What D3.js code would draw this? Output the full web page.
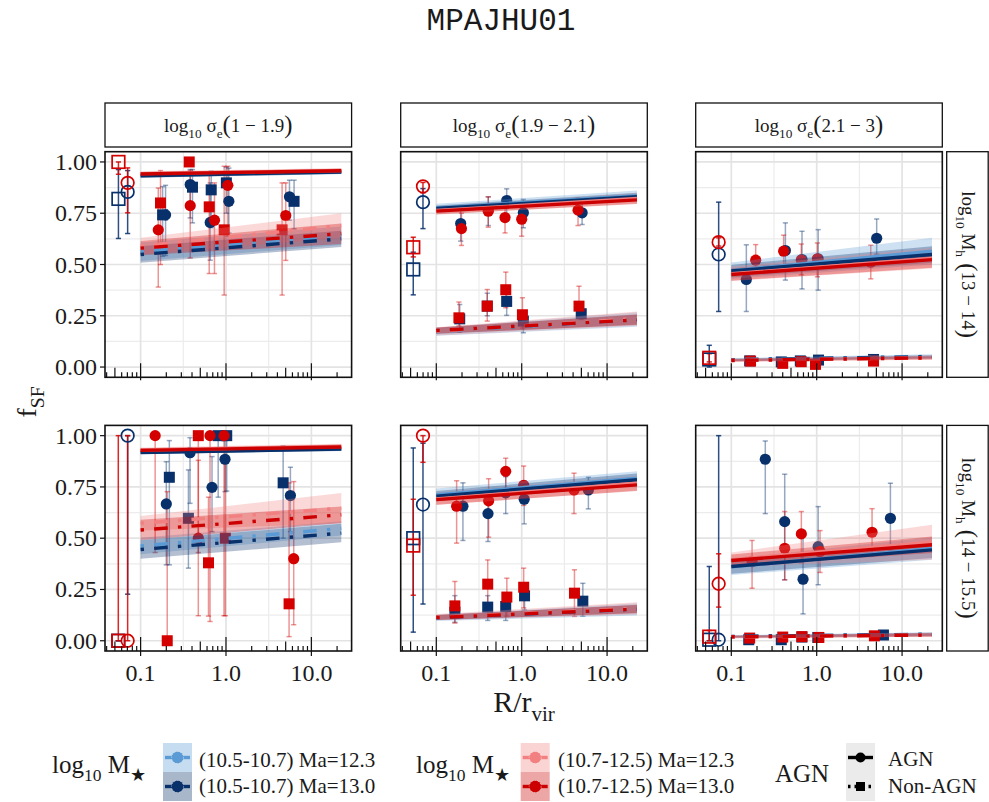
<!DOCTYPE html>
<html><head><meta charset="utf-8">
<script src="https://cdn.jsdelivr.net/npm/d3@7"></script>
<style>
body{margin:0;background:#fff}
svg{display:block}
text{font-family:"Liberation Serif","Times New Roman",serif;fill:#1a1a1a}
</style>
</head><body>
<svg id="chart" width="989" height="802"></svg>
<script>
// facet labels and axis ticks
const sigmaBins = ["1 − 1.9", "1.9 − 2.1", "2.1 − 3"];
const haloBins = ["13 − 14", "14 − 15.5"];
const xTicks = [0.1, 1, 10];
const xTickLabels = ["0.1", "1.0", "10.0"];
const yTicks = [0, 0.25, 0.5, 0.75, 1];
const yTickLabels = ["0.00", "0.25", "0.50", "0.75", "1.00"];
const massLabels = ["(10.5-10.7)", "(10.7-12.5)"];
const maLabels = ["Ma=12.3", "Ma=13.0"];
const agnLabels = ["AGN", "Non-AGN"];

// binned points: [massBin, agn, R/rvir, fSF, lower, upper]
const pointsA = [
  [0,1,0.196,0.742,0.544,0.886],[0,1,0.381,0.890,0.727,0.963],[0,1,0.653,0.705,0.521,0.898],[0,1,1.08,0.808,0.654,0.970],[0,1,5.54,0.830,0.716,0.911],
  [0,0,0.181,0.742,0.540,0.880],[0,0,0.405,0.877,0.703,0.963],[0,0,0.671,0.864,0.679,0.955],[0,0,1.01,0.898,0.750,0.975],[0,0,6.27,0.808,0.674,0.911],
  [1,1,0.161,0.669,0.390,0.873],[1,1,0.381,0.787,0.532,0.958],[1,1,0.733,0.716,0.456,0.898],[1,1,1.05,0.886,0.638,0.979],[1,1,5.01,0.739,0.520,0.898],
  [1,0,0.171,0.800,0.500,0.958],[1,0,0.371,1.000,1.000,1.000],[1,0,0.636,0.781,0.456,0.946],[1,0,0.952,0.669,0.351,0.979],[1,0,4.54,0.669,0.351,0.898]
];
const pointsB = [
  [0,1,0.193,0.700,0.614,0.768],[0,1,0.406,0.768,0.690,0.830],[0,1,0.667,0.812,0.730,0.869],[0,1,1.046,0.752,0.679,0.817],[0,1,5.10,0.752,0.695,0.800],
  [0,0,0.188,0.235,0.170,0.305],[0,0,0.395,0.297,0.250,0.360],[0,0,0.667,0.320,0.252,0.378],[0,0,1.046,0.224,0.167,0.270],[0,0,4.98,0.260,0.232,0.310],
  [1,1,0.197,0.675,0.593,0.750],[1,1,0.406,0.760,0.682,0.830],[1,1,0.638,0.729,0.654,0.800],[1,1,1.00,0.721,0.638,0.790],[1,1,4.57,0.765,0.690,0.825],
  [1,0,0.184,0.240,0.200,0.317],[1,0,0.395,0.297,0.224,0.378],[1,0,0.651,0.377,0.289,0.463],[1,0,1.02,0.255,0.190,0.338],[1,0,4.69,0.297,0.240,0.394]
];
const pointsC = [
  [0,1,0.150,0.427,0.271,0.596],[0,1,0.430,0.568,0.424,0.703],[0,1,0.673,0.524,0.381,0.662],[0,1,1.04,0.528,0.375,0.670],[0,1,5.04,0.628,0.550,0.722],
  [0,0,0.164,0.030,0.020,0.040],[0,0,0.385,0.025,0.015,0.035],[0,0,0.643,0.030,0.020,0.040],[0,0,1.05,0.034,0.024,0.048],[0,0,4.63,0.037,0.027,0.050],
  [1,1,0.193,0.521,0.480,0.597],[1,1,0.410,0.565,0.468,0.643],[1,1,0.660,0.521,0.450,0.600],[1,1,1.02,0.528,0.440,0.605],[1,1,4.30,0.511,0.430,0.594],
  [1,0,0.168,0.029,0.020,0.040],[1,0,0.400,0.018,0.010,0.030],[1,0,0.659,0.026,0.017,0.036],[1,0,0.968,0.013,0.004,0.025],[1,0,4.63,0.029,0.020,0.040]
];
const pointsD = [
  [0,1,0.200,0.667,0.370,0.873],[0,1,0.379,0.917,0.670,0.990],[0,1,0.686,0.748,0.532,0.898],[0,1,0.974,0.885,0.727,0.976],[0,1,5.68,0.708,0.532,0.846],
  [0,0,0.217,0.797,0.370,0.976],[0,0,0.363,0.597,0.354,0.833],[0,0,0.810,1.000,0.700,1.000],[0,0,1.02,1.000,0.730,1.000],[0,0,4.67,0.770,0.500,0.950],
  [1,1,0.148,1.000,0.430,1.000],[1,1,0.474,0.500,0.430,0.880],[1,1,0.650,1.000,0.094,1.000],[1,1,0.948,1.000,0.122,1.000],[1,1,6.21,0.400,0.078,0.776],
  [1,0,0.205,0.000,0.000,0.727],[1,0,0.474,1.000,0.122,1.000],[1,0,0.624,0.380,0.120,0.700],[1,0,0.983,0.500,0.122,0.880],[1,0,5.48,0.180,0.020,0.770]
];
const pointsE = [
  [0,1,0.205,0.656,0.489,0.770],[0,1,0.403,0.620,0.484,0.730],[0,1,0.650,0.721,0.620,0.800],[0,1,1.07,0.690,0.570,0.780],[0,1,6.04,0.735,0.643,0.797],
  [0,0,0.165,0.139,0.090,0.220],[0,0,0.400,0.164,0.099,0.220],[0,0,0.650,0.167,0.099,0.232],[0,0,1.08,0.219,0.150,0.278],[0,0,5.20,0.193,0.120,0.280],
  [1,1,0.173,0.656,0.476,0.780],[1,1,0.410,0.682,0.505,0.790],[1,1,0.650,0.826,0.720,0.890],[1,1,1.055,0.758,0.660,0.852],[1,1,4.10,0.735,0.620,0.817],
  [1,0,0.165,0.170,0.086,0.289],[1,0,0.400,0.276,0.160,0.394],[1,0,0.670,0.213,0.120,0.305],[1,0,1.055,0.261,0.160,0.354],[1,0,4.15,0.232,0.119,0.346]
];
const pointsF = [
  [0,1,0.250,0.885,0.620,0.974],[0,1,0.422,0.581,0.297,0.812],[0,1,0.692,0.300,0.131,0.537],[0,1,1.04,0.459,0.273,0.654],[0,1,7.30,0.597,0.443,0.768],
  [0,0,0.160,0.005,0.000,0.015],[0,0,0.385,0.005,0.000,0.015],[0,0,0.671,0.018,0.008,0.040],[0,0,1.03,0.016,0.006,0.030],[0,0,6.05,0.028,0.015,0.045],
  [1,1,0.175,0.386,0.256,0.489],[1,1,0.422,0.451,0.297,0.630],[1,1,0.661,0.521,0.380,0.630],[1,1,1.094,0.435,0.333,0.537],[1,1,4.45,0.529,0.414,0.644],
  [1,0,0.164,0.013,0.004,0.025],[1,0,0.400,0.018,0.008,0.030],[1,0,0.671,0.020,0.010,0.030],[1,0,1.06,0.016,0.006,0.028],[1,0,4.74,0.024,0.012,0.036]
];

// whole-group values shown with open markers: [massBin, agn, R/rvir, fSF, lower, upper]
const centralA = [[0,0,0.055,0.820,0.627,0.963],[0,1,0.0705,0.854,0.651,0.958],[1,0,0.055,1.000,0.940,1.000],[1,1,0.0705,0.898,0.752,0.971]];
const centralB = [[0,1,0.0698,0.804,0.675,0.870],[0,0,0.0537,0.476,0.352,0.560],[1,1,0.0698,0.881,0.849,0.900],[1,0,0.0537,0.584,0.537,0.633]];
const centralC = [[0,1,0.0711,0.549,0.271,0.804],[0,0,0.0552,0.037,0.000,0.106],[1,1,0.0711,0.609,0.590,0.630],[1,0,0.0552,0.045,0.025,0.065]];
const centralD = [[0,0,0.0548,0.000,0.000,0.000],[0,1,0.0705,1.000,0.227,1.000],[1,0,0.0548,0.000,0.000,1.000],[1,1,0.0705,0.000,0.000,1.000]];
const centralE = [[0,1,0.0698,0.664,0.179,0.963],[0,0,0.0537,0.500,0.042,0.940],[1,1,0.0698,1.000,0.870,1.000],[1,0,0.0537,0.464,0.222,0.690]];
const centralF = [[0,1,0.0711,0.005,0.000,1.000],[0,0,0.0552,0.005,0.000,0.362],[1,1,0.0711,0.278,0.164,0.424],[1,0,0.0552,0.020,0.000,0.050]];

// model fits: [massBin, maIndex, agn, fSF at r=0.1, fSF at r=22.4, half band at 0.1, half band at 22.4]
const fitsA = [
  [0,0,1,0.935,0.953,0.012,0.012],[0,1,1,0.933,0.951,0.010,0.010],[1,0,1,0.943,0.958,0.012,0.012],[1,1,1,0.941,0.957,0.010,0.010],
  [0,0,0,0.562,0.640,0.045,0.045],[0,1,0,0.549,0.625,0.040,0.040],[1,0,0,0.590,0.690,0.040,0.060],[1,1,0,0.580,0.650,0.035,0.050]
];
const fitsB = [
  [0,0,1,0.776,0.836,0.020,0.025],[0,1,1,0.773,0.830,0.015,0.020],[1,0,1,0.763,0.822,0.020,0.025],[1,1,1,0.760,0.815,0.015,0.020],
  [0,0,0,0.172,0.232,0.020,0.035],[0,1,0,0.176,0.232,0.015,0.025],[1,0,0,0.174,0.236,0.020,0.035],[1,1,0,0.178,0.230,0.015,0.025]
];
const fitsC = [
  [0,0,1,0.470,0.565,0.040,0.065],[0,1,1,0.468,0.549,0.030,0.040],[1,0,1,0.455,0.530,0.035,0.050],[1,1,1,0.451,0.524,0.030,0.040],
  [0,0,0,0.036,0.052,0.008,0.010],[0,1,0,0.035,0.050,0.006,0.008],[1,0,0,0.033,0.046,0.008,0.010],[1,1,0,0.032,0.045,0.006,0.008]
];
const fitsD = [
  [0,0,1,0.920,0.937,0.010,0.012],[0,1,1,0.918,0.935,0.008,0.010],[1,0,1,0.930,0.947,0.012,0.014],[1,1,1,0.928,0.945,0.010,0.012],
  [0,0,0,0.462,0.548,0.040,0.035],[0,1,0,0.445,0.525,0.045,0.045],[1,0,0,0.573,0.646,0.035,0.075],[1,1,0,0.540,0.614,0.050,0.040]
];
const fitsE = [
  [0,0,1,0.712,0.792,0.030,0.035],[0,1,1,0.705,0.785,0.025,0.030],[1,0,1,0.692,0.768,0.030,0.035],[1,1,1,0.688,0.760,0.025,0.030],
  [0,0,0,0.111,0.153,0.015,0.030],[0,1,0,0.113,0.155,0.012,0.020],[1,0,0,0.115,0.158,0.015,0.030],[1,1,0,0.113,0.154,0.012,0.020]
];
const fitsF = [
  [0,0,1,0.360,0.450,0.040,0.055],[0,1,1,0.362,0.443,0.035,0.040],[1,0,1,0.395,0.480,0.035,0.085],[1,1,1,0.391,0.468,0.030,0.040],
  [0,0,0,0.020,0.032,0.007,0.010],[0,1,0,0.021,0.031,0.005,0.008],[1,0,0,0.018,0.029,0.007,0.010],[1,1,0,0.019,0.028,0.005,0.008]
];
const fitRange = [0.1, 22.4];

// ---- styling ----
const lineColor = [["#5b9bd5", "#08306b"], ["#f28080", "#cc0000"]]; // [mass][ma]
const pointColor = ["#08306b", "#d40000"];
const grid = {major: "#e3e3e3", minor: "#ececec"};

const svg = d3.select("#chart");
const colLeft = [105, 400.7, 695.7], panelW = 246.6;
const rowTop = [151.7, 425.4], panelH = 225.6;
const xDomain = [Math.pow(10, -1.417), Math.pow(10, 1.471)];
const yDomain = [-0.05, 1.05];

const panels = [
  {row:0, col:0, points:pointsA, central:centralA, fits:fitsA},
  {row:0, col:1, points:pointsB, central:centralB, fits:fitsB},
  {row:0, col:2, points:pointsC, central:centralC, fits:fitsC},
  {row:1, col:0, points:pointsD, central:centralD, fits:fitsD},
  {row:1, col:1, points:pointsE, central:centralE, fits:fitsE},
  {row:1, col:2, points:pointsF, central:centralF, fits:fitsF}
];

// text with subscripts and enlarged brackets
function rich(parent, x, y, parts, size, anchor) {
  const t = parent.append("text").attr("x", x).attr("y", y)
    .attr("font-size", size).attr("text-anchor", anchor || "start");
  let shift = 0;
  parts.forEach(p => {
    let s = size, target = 0;
    if (p.sub) { s = size * 0.7; target = size * 0.3; }
    if (p.big) { s = size * 1.3; target = size * 0.06; }
    t.append("tspan").attr("font-size", s).attr("dy", target - shift).text(p.t);
    shift = target;
  });
  return t;
}

const logTickVals = [];
for (let d = -2; d <= 1; d++) for (let k = 1; k <= 9; k++) {
  const v = k * Math.pow(10, d);
  if (v >= xDomain[0] && v <= xDomain[1]) logTickVals.push({v, k});
}

panels.forEach(p => {
  const L = colLeft[p.col], T = rowTop[p.row];
  const x = d3.scaleLog().domain(xDomain).range([L, L + panelW]);
  const y = d3.scaleLinear().domain(yDomain).range([T + panelH, T]);
  const g = svg.append("g");

  g.append("rect").attr("x", L).attr("y", T).attr("width", panelW).attr("height", panelH).attr("fill", "#fff");

  // grid
  const xMinor = [Math.pow(10, -0.5), Math.pow(10, 0.5)];
  const yMinor = [0.125, 0.375, 0.625, 0.875];
  g.selectAll(".gxm").data(xMinor).join("line")
    .attr("x1", d => x(d)).attr("x2", d => x(d)).attr("y1", T).attr("y2", T + panelH)
    .attr("stroke", grid.minor).attr("stroke-width", 1.2);
  g.selectAll(".gym").data(yMinor).join("line")
    .attr("x1", L).attr("x2", L + panelW).attr("y1", d => y(d)).attr("y2", d => y(d))
    .attr("stroke", grid.minor).attr("stroke-width", 1.2);
  g.selectAll(".gx").data(xTicks).join("line")
    .attr("x1", d => x(d)).attr("x2", d => x(d)).attr("y1", T).attr("y2", T + panelH)
    .attr("stroke", grid.major).attr("stroke-width", 1.7);
  g.selectAll(".gy").data(yTicks).join("line")
    .attr("x1", L).attr("x2", L + panelW).attr("y1", d => y(d)).attr("y2", d => y(d))
    .attr("stroke", grid.major).attr("stroke-width", 1.7);

  // error bars
  const drawBars = (data, opacity) => {
    data.forEach(d => {
      const c = pointColor[d[0]], cx = x(d[2]);
      const eb = g.append("g").attr("stroke", c).attr("stroke-opacity", opacity).attr("stroke-width", 1.5);
      eb.append("line").attr("x1", cx).attr("x2", cx).attr("y1", y(d[4])).attr("y2", y(d[5]));
      [d[4], d[5]].forEach(v => eb.append("line").attr("x1", cx - 2.6).attr("x2", cx + 2.6).attr("y1", y(v)).attr("y2", y(v)));
    });
  };
  drawBars(p.central, 0.85);
  drawBars(p.points, 0.42);

  // binned points (filled)
  p.points.forEach(d => {
    const c = pointColor[d[0]];
    if (d[1] === 1) g.append("circle").attr("cx", x(d[2])).attr("cy", y(d[3])).attr("r", 5.6).attr("fill", c);
    else g.append("rect").attr("x", x(d[2]) - 5.5).attr("y", y(d[3]) - 5.5).attr("width", 11).attr("height", 11).attr("fill", c);
  });
  // whole-group points (open)
  p.central.forEach(d => {
    const c = pointColor[d[0]];
    if (d[1] === 1) g.append("circle").attr("cx", x(d[2])).attr("cy", y(d[3])).attr("r", 6.3)
      .attr("fill", "none").attr("stroke", c).attr("stroke-width", 1.7);
    else g.append("rect").attr("x", x(d[2]) - 6.3).attr("y", y(d[3]) - 6.3).attr("width", 12.6).attr("height", 12.6)
      .attr("fill", "none").attr("stroke", c).attr("stroke-width", 1.7);
  });

  // fit bands and lines
  const fitPts = d => [
    {r: fitRange[0], f: d[3], w: d[5]},
    {r: fitRange[1], f: d[4], w: d[6]}
  ];
  const area = d3.area().x(q => x(q.r)).y0(q => y(q.f - q.w)).y1(q => y(q.f + q.w));
  const line = d3.line().x(q => x(q.r)).y(q => y(q.f));
  const ordered = p.fits.slice().sort((a, b) => (a[0] * 2 + a[1]) - (b[0] * 2 + b[1]));
  ordered.forEach(d => {
    g.append("path").attr("d", area(fitPts(d))).attr("fill", lineColor[d[0]][d[1]]).attr("fill-opacity", 0.3);
  });
  ordered.forEach(d => {
    g.append("path").attr("d", line(fitPts(d))).attr("fill", "none")
      .attr("stroke", lineColor[d[0]][d[1]]).attr("stroke-width", 3.4)
      .attr("stroke-dasharray", d[2] === 1 ? null : "3.4,10.2,13.6,10.2");
  });

  // log ticks along the bottom
  const yb = T + panelH;
  g.selectAll(".lt").data(logTickVals).join("line")
    .attr("x1", d => x(d.v)).attr("x2", d => x(d.v))
    .attr("y1", yb).attr("y2", d => yb - (d.k === 1 ? 14 : d.k === 5 ? 9.5 : 5))
    .attr("stroke", "#111").attr("stroke-width", 1.2);

  // border
  g.append("rect").attr("x", L).attr("y", T).attr("width", panelW).attr("height", panelH)
    .attr("fill", "none").attr("stroke", "#111").attr("stroke-width", 1.6);

  // axis ticks and labels
  g.selectAll(".xt").data(xTicks).join("line")
    .attr("x1", d => x(d)).attr("x2", d => x(d)).attr("y1", yb).attr("y2", yb + (p.row === 1 ? 5 : 3))
    .attr("stroke", "#111").attr("stroke-width", 1.2);
  if (p.row === 1) {
    g.selectAll(".xl").data(xTicks).join("text")
      .attr("x", d => x(d)).attr("y", yb + 30).attr("text-anchor", "middle").attr("font-size", 24)
      .text((d, i) => xTickLabels[i]);
  }
  if (p.col === 0) {
    g.selectAll(".yt").data(yTicks).join("line")
      .attr("x1", L - 5).attr("x2", L).attr("y1", d => y(d)).attr("y2", d => y(d))
      .attr("stroke", "#111").attr("stroke-width", 1.2);
    g.selectAll(".yl").data(yTicks).join("text")
      .attr("x", L - 8).attr("y", d => y(d) + 8).attr("text-anchor", "end").attr("font-size", 24)
      .text((d, i) => yTickLabels[i]);
  }
});

// column strips
sigmaBins.forEach((s, i) => {
  const L = colLeft[i];
  svg.append("rect").attr("x", L).attr("y", 103).attr("width", panelW).attr("height", 44)
    .attr("fill", "#fff").attr("stroke", "#111").attr("stroke-width", 1.3);
  rich(svg, L + panelW / 2, 132, [
    {t: "log"}, {t: "10", sub: true}, {t: " σ"}, {t: "e", sub: true},
    {t: "(", big: true}, {t: s}, {t: ")", big: true}
  ], 19, "middle");
});
// row strips
haloBins.forEach((s, i) => {
  const T = rowTop[i];
  svg.append("rect").attr("x", 946.7).attr("y", T).attr("width", 41.5).attr("height", panelH)
    .attr("fill", "#fff").attr("stroke", "#111").attr("stroke-width", 1.3);
  const g = svg.append("g").attr("transform", `translate(${967.5},${T + panelH / 2}) rotate(90)`);
  rich(g, 0, 6, [
    {t: "log"}, {t: "10", sub: true}, {t: " M"}, {t: "h", sub: true},
    {t: " (", big: true}, {t: s}, {t: ")", big: true}
  ], 19, "middle");
});

// title and axis titles
svg.append("text").attr("x", 501).attr("y", 30).attr("text-anchor", "middle")
  .style("font-family", "'Liberation Mono','DejaVu Sans Mono',monospace").attr("font-size", 31)
  .text("MPAJHU01");
rich(svg, 524, 712, [{t: "R/r"}, {t: "vir", sub: true}], 30, "middle");
const yl = svg.append("g").attr("transform", "translate(36,402) rotate(-90)");
rich(yl, 0, 0, [{t: "f"}, {t: "SF", sub: true}], 28, "middle");

// legends
const keyW = 29, keyH = 29;
function colourKey(x0, y0, mass, ma) {
  const c = lineColor[mass][ma];
  svg.append("rect").attr("x", x0).attr("y", y0).attr("width", keyW).attr("height", keyH).attr("fill", "#fff");
  svg.append("rect").attr("x", x0).attr("y", y0).attr("width", keyW).attr("height", keyH).attr("fill", c).attr("fill-opacity", 0.35);
  svg.append("line").attr("x1", x0 + 2).attr("x2", x0 + keyW - 2).attr("y1", y0 + keyH / 2).attr("y2", y0 + keyH / 2)
    .attr("stroke", c).attr("stroke-width", 3.4);
  svg.append("circle").attr("cx", x0 + keyW / 2).attr("cy", y0 + keyH / 2).attr("r", 6).attr("fill", c)
    .attr("stroke", "#fff").attr("stroke-opacity", 0.5).attr("stroke-width", 0.8).attr("stroke-dasharray", "1.5,1.5");
}
const blocks = [{title: 52, key: 163, label: 199, mass: 0}, {title: 416, key: 520.7, label: 558, mass: 1}];
blocks.forEach(b => {
  rich(svg, b.title, 773, [{t: "log"}, {t: "10", sub: true}, {t: " M"}, {t: "★", sub: true}], 25, "start");
  [0, 1].forEach(ma => {
    colourKey(b.key, 743 + ma * keyH, b.mass, ma);
    svg.append("text").attr("x", b.label).attr("y", 767 + ma * 25.5).attr("font-size", 21)
      .text(massLabels[b.mass] + " " + maLabels[ma]);
  });
});
svg.append("text").attr("x", 775).attr("y", 782).attr("font-size", 25).text("AGN");
agnLabels.forEach((lab, i) => {
  const x0 = 846, y0 = 743 + i * keyH, cy = y0 + keyH / 2;
  svg.append("rect").attr("x", x0).attr("y", y0).attr("width", keyW).attr("height", keyH).attr("fill", "#ebebeb");
  svg.append("line").attr("x1", x0 + 2).attr("x2", x0 + keyW - 2).attr("y1", cy).attr("y2", cy)
    .attr("stroke", "#000").attr("stroke-width", 3.4).attr("stroke-dasharray", i === 0 ? null : "2.5,4,10,4");
  if (i === 0) svg.append("circle").attr("cx", x0 + keyW / 2).attr("cy", cy).attr("r", 5).attr("fill", "#000");
  else svg.append("rect").attr("x", x0 + keyW / 2 - 4.5).attr("y", cy - 4.5).attr("width", 9).attr("height", 9).attr("fill", "#000");
  svg.append("text").attr("x", 888).attr("y", 766 + i * 27).attr("font-size", 21).text(lab);
});
</script>
</body></html>
